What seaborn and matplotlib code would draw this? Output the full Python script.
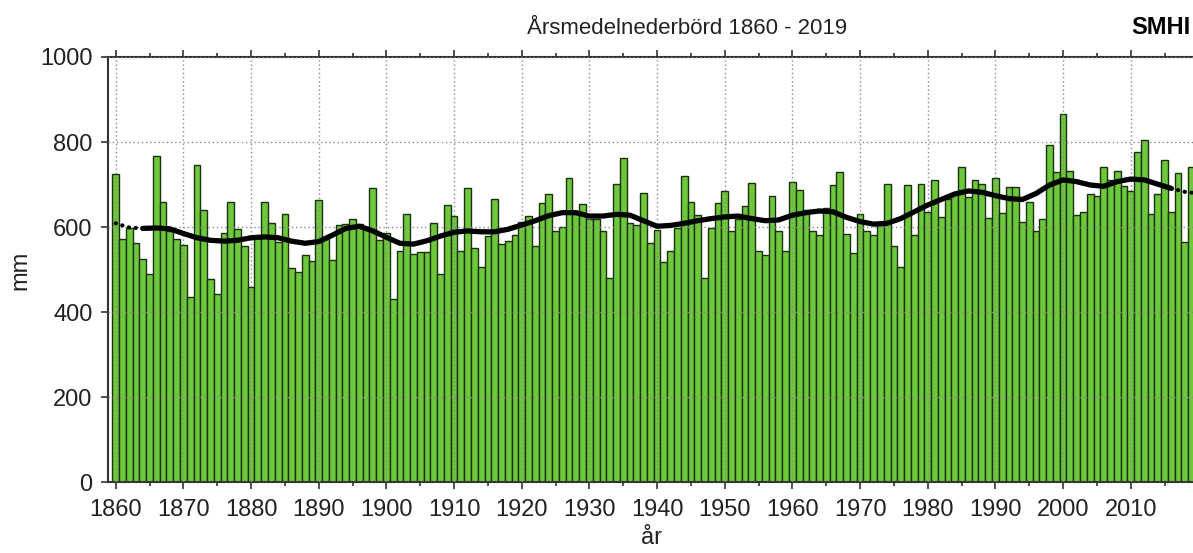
import matplotlib
matplotlib.use("Agg")
import matplotlib.pyplot as plt
import seaborn as sns
import pandas as pd

# yearly mean precipitation (mm)
years = list(range(1860, 2020))
precip = [
    726, 573, 597, 562, 526, 489, 768, 658, 592, 573,
    558, 435, 745, 640, 477, 442, 585, 658, 595, 556,
    460, 580, 658, 609, 566, 630, 505, 494, 534, 521,
    664, 571, 522, 605, 607, 620, 607, 601, 693, 569,
    587, 431, 544, 630, 537, 541, 541, 609, 489, 653,
    627, 544, 693, 551, 507, 579, 665, 560, 567, 581,
    612, 626, 556, 656, 678, 591, 601, 716, 630, 654,
    620, 619, 591, 481, 702, 763, 609, 604, 680, 563,
    594, 518, 545, 598, 720, 659, 628, 481, 598, 656,
    686, 592, 620, 649, 704, 543, 534, 674, 590, 544,
    707, 687, 640, 590, 582, 644, 700, 729, 584, 540,
    630, 590, 582, 605, 701, 556, 506, 699, 582, 702,
    635, 711, 624, 665, 680, 741, 670, 711, 702, 622,
    715, 633, 694, 694, 613, 658, 590, 620, 793, 729,
    867, 733, 628, 635, 677, 674, 741, 710, 732, 696,
    684, 776, 806, 631, 679, 758, 636, 728, 565, 742,
]

# smoothed curve, read every second year
curve_years = list(range(1860, 2020, 2)) + [2019]
curve_vals = [
    609, 599, 597, 598, 596, 585, 575, 569, 567, 569,
    575, 577, 575, 567, 562, 566, 581, 597, 602, 591,
    576, 562, 560, 568, 579, 588, 591, 589, 589, 595,
    605, 615, 627, 634, 634, 626, 626, 630, 628, 615,
    602, 604, 609, 615, 620, 624, 626, 620, 615, 617,
    628, 634, 638, 636, 623, 613, 607, 609, 620, 636,
    652, 665, 678, 685, 682, 674, 667, 665, 679, 699,
    711, 707, 699, 696, 707, 713, 711, 701, 691, 683, 681,
]
solid_from, solid_to = 1864, 2016

df = pd.DataFrame({"year": years, "mm": precip})
curve = pd.DataFrame({"year": curve_years, "mm": curve_vals})

sns.set_theme(style="ticks")
plt.rcParams["font.family"] = ["Liberation Sans", "DejaVu Sans"]

W, H = 1193, 553
fig = plt.figure(figsize=(W / 100, H / 100), dpi=100)
ax = fig.add_axes([108 / W, 1 - 482.3 / H, 1 - 108 / W, (482.3 - 57) / H])

sns.barplot(data=df, x="year", y="mm", native_scale=True, width=1.0,
            color="#6dc83c", saturation=1, edgecolor="#1b300c",
            linewidth=1, errorbar=None, ax=ax, zorder=1)

start = curve[curve.year <= solid_from]
mid = curve[(curve.year >= solid_from) & (curve.year <= solid_to)]
end = curve[curve.year >= solid_to]
sns.lineplot(data=mid, x="year", y="mm", color="black", linewidth=3.8,
             ax=ax, zorder=5, solid_capstyle="round")
for part in (start, end):
    sns.lineplot(data=part, x="year", y="mm", color="black", linewidth=3.0,
                 linestyle=(0, (0.05, 1.6)), dash_capstyle="round",
                 ax=ax, zorder=5)

ax.set_xlim(1858.86, 2019.2)
ax.set_ylim(0, 1000)
ax.set_xticks(range(1860, 2011, 10))
ax.set_xticks(range(1865, 2020, 10), minor=True)
ax.set_yticks(range(0, 1001, 200))
ax.set_xticklabels([str(y) for y in range(1860, 2011, 10)])

ax.grid(True, which="major", color="#8a8a8a", linestyle=(0, (1, 2)), linewidth=1)
ax.set_axisbelow(False)

ax.tick_params(axis="x", which="both", direction="out", top=True, bottom=True,
               labeltop=False, color="#333333", width=1.2)
ax.tick_params(axis="x", which="major", length=5, pad=7, labelsize=17, labelcolor="#222222")
ax.tick_params(axis="x", which="minor", length=3)
ax.tick_params(axis="y", which="major", direction="out", length=5, width=1.2, pad=6,
               labelsize=17, labelcolor="#222222", color="#333333")

for side in ("left", "bottom", "top"):
    ax.spines[side].set_color("#333333")
    ax.spines[side].set_linewidth(1.5)
ax.spines["right"].set_visible(False)

ax.set_xlabel("")
ax.set_ylabel("")
fig.text(20 / W, 1 - 270 / H, "mm", rotation=90, ha="center", va="center",
         fontsize=17, color="#222222")
fig.text(652 / W, 1 - 538 / H, "år", ha="center", va="center",
         fontsize=17, color="#222222")
fig.text(847 / W, 1 - 28 / H, "Årsmedelnederbörd 1860 - 2019", ha="right",
         va="center", fontsize=16, color="#222222")
fig.text(1191 / W, 1 - 28 / H, "SMHI", ha="right", va="center", fontsize=17,
         fontweight="heavy", color="black")

fig.savefig("out.png", dpi=100)
